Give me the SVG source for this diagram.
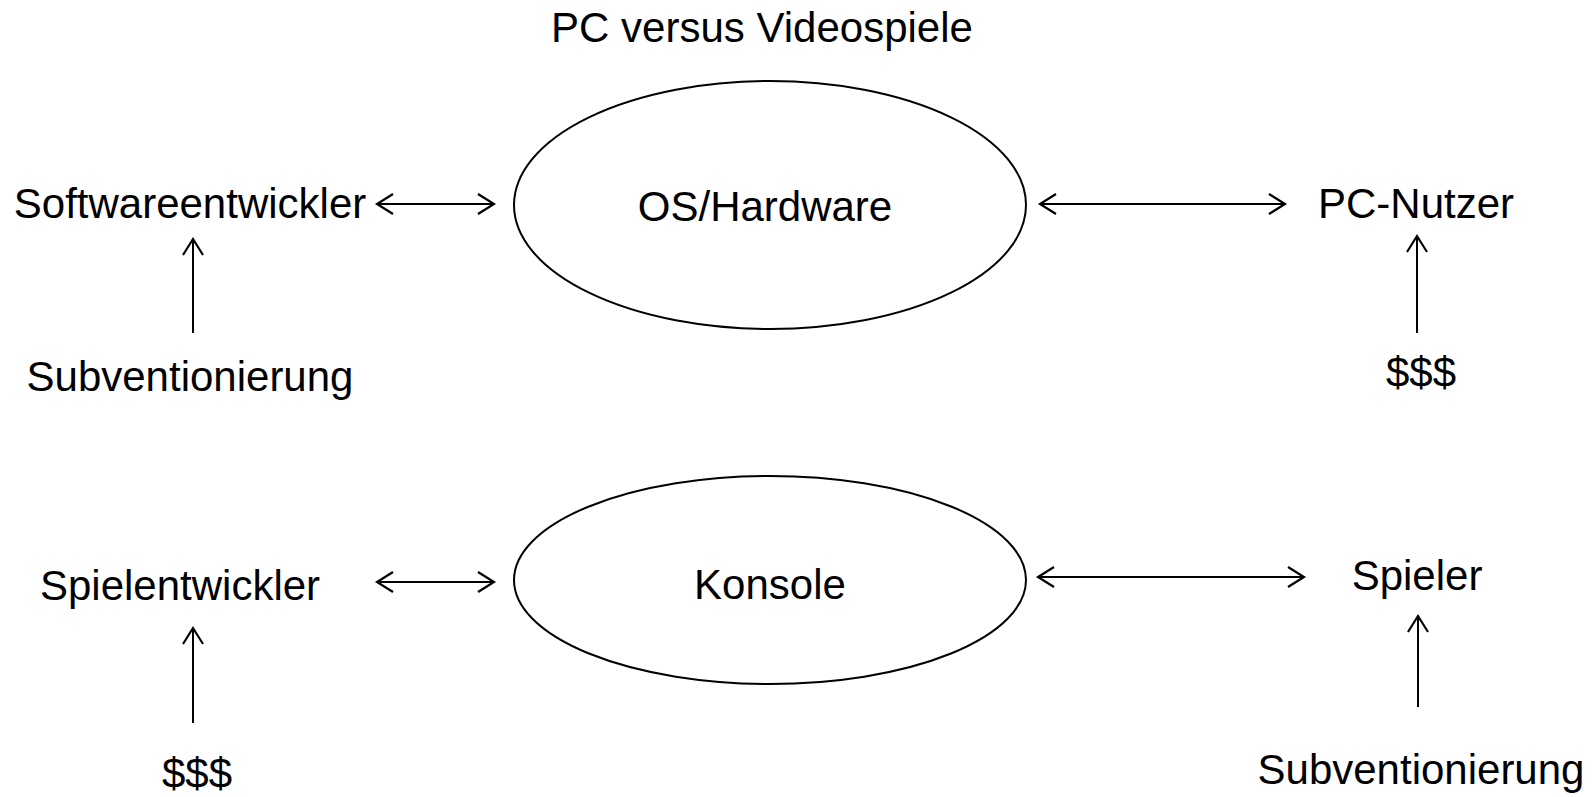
<svg xmlns="http://www.w3.org/2000/svg" width="1596" height="797" viewBox="0 0 1596 797">
<style>
  text { font-family: "Liberation Sans", Arial, sans-serif; font-size: 42px; fill: #000; text-anchor: middle; }
  .shape { fill: #fff; stroke: #000; stroke-width: 2; }
  .conn { fill: none; stroke: #000; stroke-width: 2; }
</style>
<defs>
  <marker id="head" markerUnits="userSpaceOnUse" markerWidth="24" markerHeight="24" viewBox="-20 -12 24 24" refX="0" refY="0" orient="auto-start-reverse">
    <path d="M-16,-10 L0,0 L-16,10" fill="none" stroke="#000" stroke-width="2.2"/>
  </marker>
</defs>
<rect width="1596" height="797" fill="#fff"/>
<g id="title"><text x="762" y="42">PC versus Videospiele</text></g>
<g id="os-hardware">
  <ellipse class="shape" cx="770" cy="205" rx="256" ry="124"/>
  <text x="765" y="221">OS/Hardware</text>
</g>
<g id="softwareentwickler"><text x="190" y="218">Softwareentwickler</text></g>
<g id="pc-nutzer"><text x="1416" y="218">PC-Nutzer</text></g>
<g id="subventionierung-1"><text x="190" y="391">Subventionierung</text></g>
<g id="geld-1"><text x="1421" y="387">$$$</text></g>
<g id="konsole">
  <ellipse class="shape" cx="770" cy="580" rx="256" ry="104"/>
  <text x="770" y="599">Konsole</text>
</g>
<g id="spielentwickler"><text x="180" y="600">Spielentwickler</text></g>
<g id="spieler"><text x="1417" y="590">Spieler</text></g>
<g id="geld-2"><text x="197" y="788">$$$</text></g>
<g id="subventionierung-2"><text x="1421" y="784">Subventionierung</text></g>
<g id="connectors">
  <line class="conn" x1="377" y1="204" x2="494" y2="204" marker-start="url(#head)" marker-end="url(#head)"/>
  <line class="conn" x1="1040" y1="204" x2="1285" y2="204" marker-start="url(#head)" marker-end="url(#head)"/>
  <line class="conn" x1="377" y1="582" x2="494" y2="582" marker-start="url(#head)" marker-end="url(#head)"/>
  <line class="conn" x1="1038" y1="577" x2="1304" y2="577" marker-start="url(#head)" marker-end="url(#head)"/>
  <line class="conn" x1="193" y1="333" x2="193" y2="239" marker-end="url(#head)"/>
  <line class="conn" x1="1417" y1="333" x2="1417" y2="236" marker-end="url(#head)"/>
  <line class="conn" x1="193" y1="723" x2="193" y2="628" marker-end="url(#head)"/>
  <line class="conn" x1="1418" y1="707" x2="1418" y2="616" marker-end="url(#head)"/>
</g>
</svg>
